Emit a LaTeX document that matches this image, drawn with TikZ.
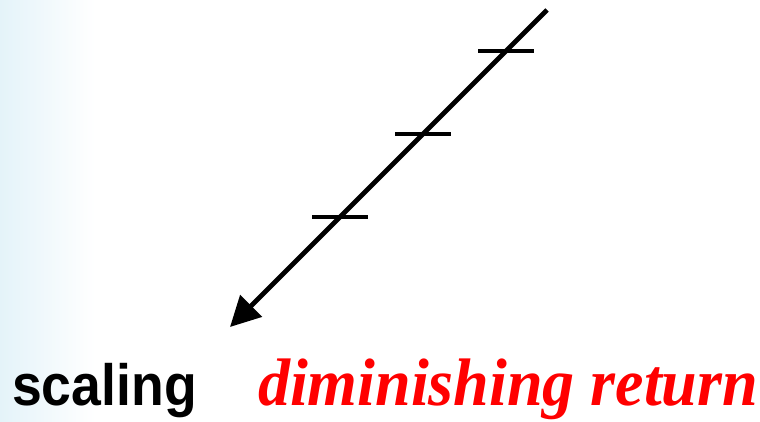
\documentclass[tikz,border=0pt]{standalone}
\usepackage{fontspec}
\setmainfont{Liberation Serif}
\newfontfamily\arialfont{Liberation Sans}
\usetikzlibrary{arrows.meta}
\definecolor{bgblue}{RGB}{228,243,249}
\definecolor{textred}{RGB}{255,0,0}
\tikzset{
  mainline/.style={line width=4.8pt, -{Triangle[length=30pt,width=30pt]}},
  tickmark/.style={line width=4pt},
}
\begin{document}
\begin{tikzpicture}[x=1pt,y=-1pt]
\useasboundingbox (0,0) rectangle (760,422);
\fill[white] (0,0) rectangle (760,422);
\shade[left color=bgblue, right color=white] (0,0) rectangle (95,422);
\coordinate (top) at (547,10);
\coordinate (tip) at (230,327);
\coordinate (t1) at (506,51);
\coordinate (t2) at (423,134);
\coordinate (t3) at (340,217);
\draw[mainline] (top) -- (tip);
\foreach \t in {t1,t2,t3}{
  \draw[tickmark] ([xshift=-28pt]\t) -- ([xshift=28pt]\t);
}
\node[anchor=base west, inner sep=0pt, font=\arialfont\bfseries\fontsize{52}{60}\selectfont] (scal) at (12,405) {\scalebox{1.03}[1.12]{scaling}};
\node[anchor=base west, inner sep=0pt, text=textred, font=\bfseries\itshape\fontsize{64}{72}\selectfont] (dim) at (258,405) {\scalebox{1}[1.05]{diminishing return}};
\end{tikzpicture}
\end{document}
